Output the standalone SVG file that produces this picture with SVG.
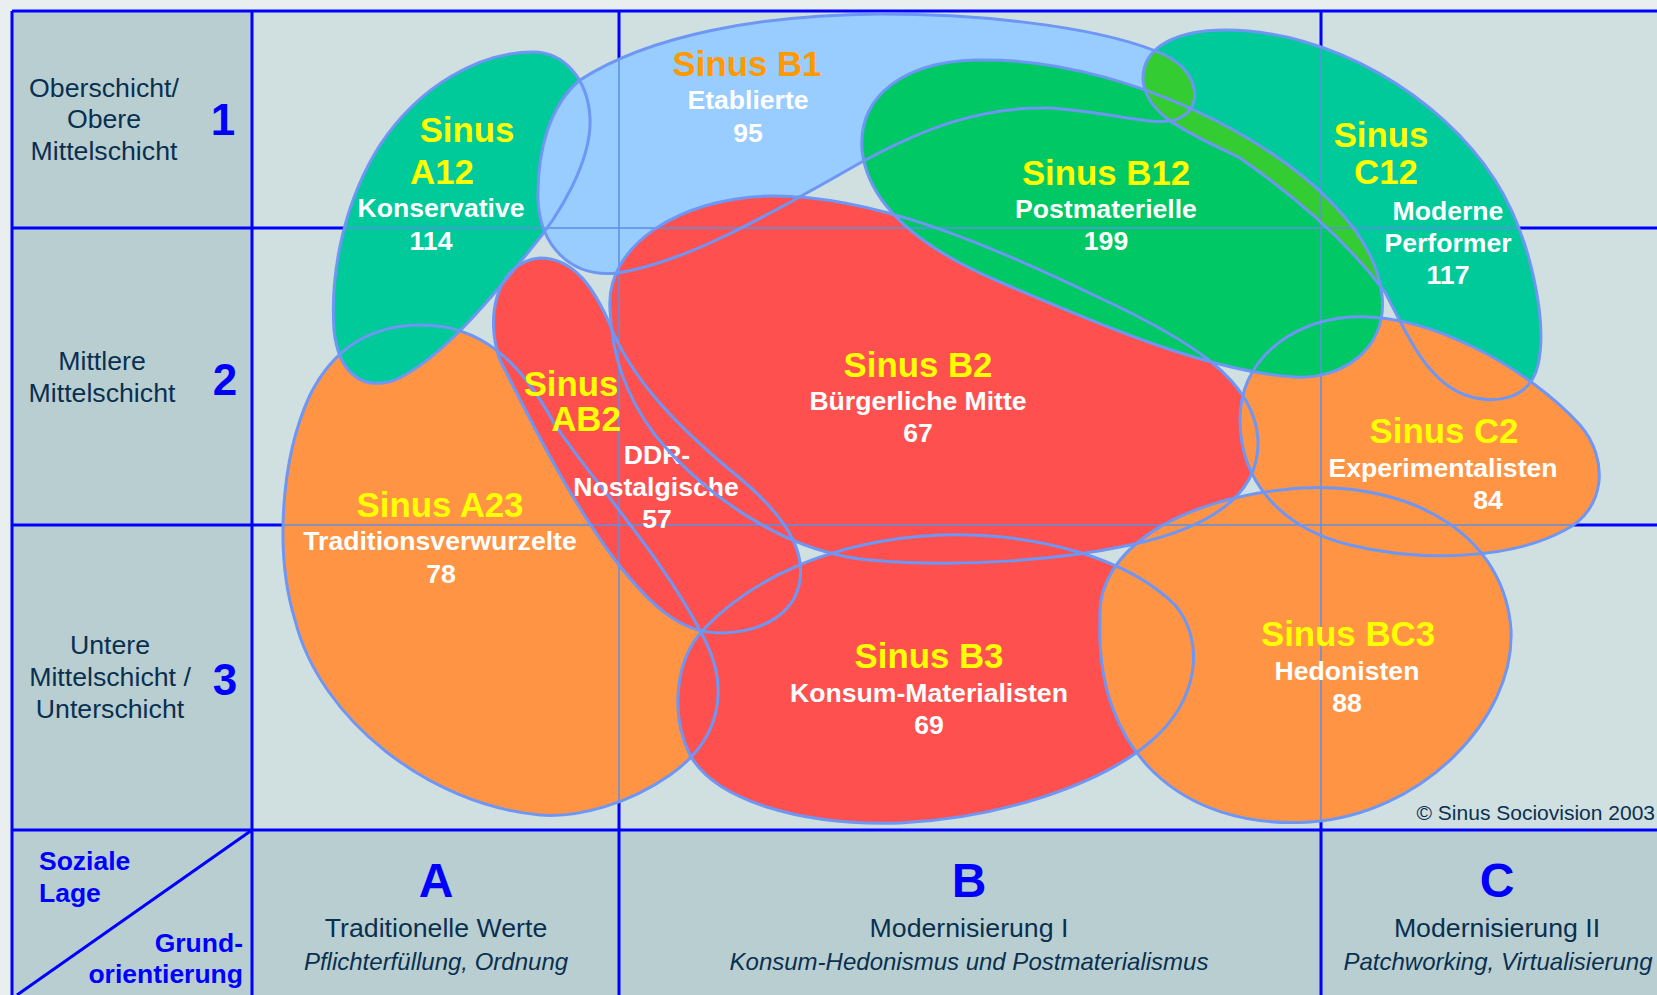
<svg xmlns="http://www.w3.org/2000/svg" xmlns:xlink="http://www.w3.org/1999/xlink" width="1657" height="995" viewBox="0 0 1657 995">
<style>
text{font-family:'Liberation Sans',Arial,Helvetica,sans-serif;}
.hd{font-size:26.7px;fill:#0a3050;text-anchor:middle;}
.num{font-size:44px;font-weight:bold;fill:#0000ff;text-anchor:middle;}
.col{font-size:48px;font-weight:bold;fill:#0000ff;text-anchor:middle;}
.sub{font-size:24px;font-style:italic;fill:#0a3050;text-anchor:middle;}
.axis{font-size:26.5px;font-weight:bold;fill:#0000ff;}
.sn{font-size:34.8px;font-weight:bold;fill:#ffff00;text-anchor:middle;}
.nm{font-size:26.6px;font-weight:bold;fill:#ffffff;text-anchor:middle;}
.outline{fill:none;stroke:#6e96f5;stroke-width:3;}
.thick{stroke:#0000ff;stroke-width:3;fill:none;}
.thin{stroke:#5b8fe6;stroke-width:1.5;fill:none;}
.teal{fill:#00c99a}.green{fill:#00c864}.blue{fill:#99ccff}.red{fill:#ff5050}.orange{fill:#ff9444}.lime{fill:#33cc33}
</style>
<defs>
<path id="pA12" d="M533,52 C565,52 588,80 590,118 C592,160 560,215 530,250 C490,300 440,360 395,380 C360,392 338,370 334,330 C330,270 345,200 380,145 C420,85 480,52 533,52 Z"/>
<path id="pB1" d="M580,80 C650,35 760,15 880,14 C1000,14 1110,30 1165,55 C1200,72 1205,110 1175,120 C1150,126 1110,112 1050,108 C980,106 920,130 860,163 C780,208 690,262 617,273 C570,278 540,245 538,200 C537,150 550,105 580,80 Z"/>
<path id="pB12" d="M862,150 C858,95 905,62 975,60 C1060,58 1150,85 1230,128 C1310,172 1375,232 1382,295 C1388,350 1340,380 1295,377 C1210,372 1100,325 1000,282 C920,248 868,205 862,150 Z"/>
<path id="pC12" d="M1143,80 C1142,45 1180,30 1225,30 C1330,30 1440,95 1495,180 C1530,235 1548,320 1538,365 C1530,400 1495,405 1465,395 C1425,380 1405,330 1385,292 C1350,245 1300,200 1240,158 C1195,135 1146,118 1143,80 Z"/>
<path id="pB2" d="M610,310 C605,245 680,198 770,196 C870,195 980,240 1100,298 C1190,340 1255,380 1258,440 C1260,500 1200,530 1130,545 C1060,560 960,568 870,560 C780,552 700,490 655,435 C625,395 612,355 610,310 Z"/>
<path id="pAB2" d="M540,258 C575,258 595,290 610,325 C630,375 670,420 730,470 C780,510 805,545 800,580 C795,615 760,633 720,633 C680,633 650,605 615,560 C570,500 530,420 500,360 C485,320 495,262 540,258 Z"/>
<path id="pA23" d="M421,325 C480,325 520,360 555,425 C600,490 665,560 705,640 C730,690 720,740 670,775 C630,803 580,818 540,815 C430,805 320,720 295,620 C275,555 280,460 310,395 C335,345 375,325 421,325 Z"/>
<path id="pB3" d="M703,630 C750,580 830,540 940,535 C1040,532 1130,560 1175,605 C1205,640 1200,700 1150,742 C1100,785 1000,818 900,823 C800,826 715,800 690,755 C670,715 675,660 703,630 Z"/>
<path id="pC2" d="M1240,420 C1240,360 1290,322 1350,317 C1430,312 1530,370 1580,425 C1610,460 1605,510 1565,530 C1510,560 1420,562 1350,545 C1280,528 1240,480 1240,420 Z"/>
<path id="pBC3" d="M1100,620 C1095,550 1180,497 1300,488 C1420,482 1505,540 1511,630 C1515,720 1420,815 1310,822 C1180,830 1095,750 1100,620 Z"/>
<clipPath id="clipC12"><use xlink:href="#pC12"/></clipPath>
<clipPath id="clipAll">
<use xlink:href="#pA12"/><use xlink:href="#pB1"/><use xlink:href="#pB12"/><use xlink:href="#pC12"/><use xlink:href="#pB2"/>
<use xlink:href="#pAB2"/><use xlink:href="#pA23"/><use xlink:href="#pB3"/><use xlink:href="#pC2"/><use xlink:href="#pBC3"/>
</clipPath>
</defs>

<g id="background">
<rect x="0" y="0" width="1657" height="995" fill="#e9eeef"/>
<rect x="12" y="11" width="240" height="819" fill="#b9ced0"/>
<rect x="12" y="830" width="1645" height="165" fill="#b9ced0"/>
<rect x="252" y="11" width="1405" height="819" fill="#d0e0e0"/>
</g>

<g id="grid">
<line class="thick" x1="12" y1="11" x2="1657" y2="11"/>
<line class="thick" x1="12" y1="228" x2="1657" y2="228"/>
<line class="thick" x1="12" y1="525" x2="1657" y2="525"/>
<line class="thick" x1="12" y1="830" x2="1657" y2="830"/>
<line class="thick" x1="12" y1="11" x2="12" y2="995"/>
<line class="thick" x1="252" y1="11" x2="252" y2="995"/>
<line class="thick" x1="619" y1="11" x2="619" y2="995"/>
<line class="thick" x1="1321" y1="11" x2="1321" y2="995"/>
<line class="thick" x1="252" y1="830" x2="17" y2="995"/>
</g>

<g id="fills">
<use xlink:href="#pA23" class="orange"/>
<use xlink:href="#pA12" class="teal"/>
<use xlink:href="#pB1" class="blue"/>
<use xlink:href="#pAB2" class="red"/>
<use xlink:href="#pB3" class="red"/>
<use xlink:href="#pB2" class="red"/>
<use xlink:href="#pC12" class="teal"/>
<use xlink:href="#pC2" class="orange"/>
<use xlink:href="#pBC3" class="orange"/>
<use xlink:href="#pB12" class="green"/>
<g clip-path="url(#clipC12)">
<use xlink:href="#pB1" class="lime"/>
<use xlink:href="#pB12" class="lime"/>
</g>
</g>

<g id="grid-overlay" clip-path="url(#clipAll)">
<line class="thin" x1="252" y1="228" x2="1657" y2="228"/>
<line class="thin" x1="252" y1="525" x2="1657" y2="525"/>
<line class="thin" x1="619" y1="11" x2="619" y2="830"/>
<line class="thin" x1="1321" y1="11" x2="1321" y2="830"/>
</g>

<g id="row-headers">
<text class="hd" x="104" y="97">Oberschicht/</text>
<text class="hd" x="104" y="128">Obere</text>
<text class="hd" x="104" y="160">Mittelschicht</text>
<text class="num" x="223" y="135">1</text>
<text class="hd" x="102" y="370">Mittlere</text>
<text class="hd" x="102" y="402">Mittelschicht</text>
<text class="num" x="225" y="395">2</text>
<text class="hd" x="110" y="654">Untere</text>
<text class="hd" x="110" y="686">Mittelschicht /</text>
<text class="hd" x="110" y="718">Unterschicht</text>
<text class="num" x="225" y="695">3</text>
</g>

<g id="axis-corner">
<text class="axis" x="39" y="870">Soziale</text>
<text class="axis" x="39" y="902">Lage</text>
<text class="axis" x="243" y="952" text-anchor="end">Grund-</text>
<text class="axis" x="243" y="983" text-anchor="end">orientierung</text>
</g>

<g id="column-headers">
<text class="col" x="436" y="897">A</text>
<text class="hd" x="436" y="937">Traditionelle Werte</text>
<text class="sub" x="436" y="970">Pflichterfüllung, Ordnung</text>
<text class="col" x="969" y="897">B</text>
<text class="hd" x="969" y="937">Modernisierung I</text>
<text class="sub" x="969" y="970">Konsum-Hedonismus und Postmaterialismus</text>
<text class="col" x="1497" y="897">C</text>
<text class="hd" x="1497" y="937">Modernisierung II</text>
<text class="sub" x="1498" y="970">Patchworking, Virtualisierung</text>
</g>

<g id="node-A23">
<use xlink:href="#pA23" class="outline"/>
<text class="sn" x="440" y="517">Sinus A23</text>
<text class="nm" x="440" y="550">Traditionsverwurzelte</text>
<text class="nm" x="441" y="583">78</text>
</g>
<g id="node-A12">
<use xlink:href="#pA12" class="outline"/>
<text class="sn" x="467" y="142">Sinus</text>
<text class="sn" x="442" y="184">A12</text>
<text class="nm" x="441" y="217">Konservative</text>
<text class="nm" x="431" y="250">114</text>
</g>
<g id="node-B1">
<use xlink:href="#pB1" class="outline"/>
<text class="sn" x="747" y="76" style="fill:#ff9900">Sinus B1</text>
<text class="nm" x="748" y="109">Etablierte</text>
<text class="nm" x="748" y="142">95</text>
</g>
<g id="node-AB2">
<use xlink:href="#pAB2" class="outline"/>
<text class="sn" x="571" y="396">Sinus</text>
<text class="sn" x="586" y="431">AB2</text>
<text class="nm" x="657" y="464">DDR-</text>
<text class="nm" x="656" y="496">Nostalgische</text>
<text class="nm" x="657" y="528">57</text>
</g>
<g id="node-B3">
<use xlink:href="#pB3" class="outline"/>
<text class="sn" x="929" y="668">Sinus B3</text>
<text class="nm" x="929" y="702">Konsum-Materialisten</text>
<text class="nm" x="929" y="734">69</text>
</g>
<g id="node-B2">
<use xlink:href="#pB2" class="outline"/>
<text class="sn" x="918" y="377">Sinus B2</text>
<text class="nm" x="918" y="410">Bürgerliche Mitte</text>
<text class="nm" x="918" y="442">67</text>
</g>
<g id="node-C12">
<use xlink:href="#pC12" class="outline"/>
<text class="sn" x="1381" y="147">Sinus</text>
<text class="sn" x="1386" y="184">C12</text>
<text class="nm" x="1448" y="220">Moderne</text>
<text class="nm" x="1448" y="252">Performer</text>
<text class="nm" x="1448" y="284">117</text>
</g>
<g id="node-C2">
<use xlink:href="#pC2" class="outline"/>
<text class="sn" x="1444" y="443">Sinus C2</text>
<text class="nm" x="1443" y="477">Experimentalisten</text>
<text class="nm" x="1488" y="509">84</text>
</g>
<g id="node-BC3">
<use xlink:href="#pBC3" class="outline"/>
<text class="sn" x="1348" y="646">Sinus BC3</text>
<text class="nm" x="1347" y="680">Hedonisten</text>
<text class="nm" x="1347" y="712">88</text>
</g>
<g id="node-B12">
<use xlink:href="#pB12" class="outline"/>
<text class="sn" x="1106" y="185">Sinus B12</text>
<text class="nm" x="1106" y="218">Postmaterielle</text>
<text class="nm" x="1106" y="250">199</text>
</g>

<g id="connectors"></g>

<text x="1655" y="820" text-anchor="end" style="font-size:21px;fill:#0a3050">© Sinus Sociovision 2003</text>
</svg>
